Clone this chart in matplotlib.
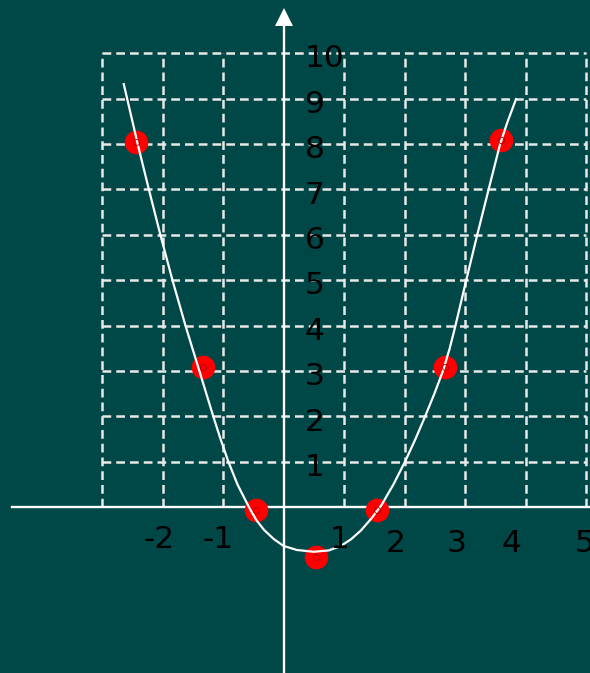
import matplotlib.pyplot as plt

# points marked on the curve
pt_x = [-2.44, -1.33, -0.45, 0.54, 1.54, 2.67, 3.59]
pt_y = [8.04, 3.10, -0.07, -1.09, -0.07, 3.10, 8.08]

# the curve itself, traced point by point
curve_x = [-2.64, -2.41, -2.225, -2.035, -1.835, -1.62, -1.39, -1.16, -1.04,
           -0.91, -0.76, -0.57, -0.45, -0.32, -0.16, 0.0, 0.22, 0.50, 0.75,
           0.95, 1.12, 1.28, 1.45, 1.62, 1.82, 2.01, 2.18, 2.34, 2.49, 2.635,
           2.745, 2.84, 3.02, 3.20, 3.39, 3.58, 3.70, 3.843]
curve_y = [9.32, 8.00, 7.00, 6.00, 5.00, 4.00, 3.00, 2.00, 1.50,
           1.00, 0.50, 0.00, -0.28, -0.50, -0.70, -0.85, -0.94, -0.98, -0.95,
           -0.85, -0.70, -0.51, -0.25, 0.05, 0.51, 1.01, 1.50, 2.00, 2.49, 3.00,
           3.49, 3.99, 5.00, 5.99, 7.00, 8.00, 8.48, 8.99]

x_ticks = [-2, -1, 1, 2, 3, 4, 5]
y_ticks = [1, 2, 3, 4, 5, 6, 7, 8, 9, 10]
grid_cols = [-3, -2, -1, 1, 2, 3, 4, 5]

# where the x labels sit (they are nudged off the grid lines a bit)
x_label_pos = [-2.06, -1.08, 0.93, 1.86, 2.86, 3.76, 4.98]
x_label_base = [-0.90, -0.90, -0.90, -0.99, -0.99, -0.99, -0.99]

bg = '#004747'
fig = plt.figure(figsize=(5.9, 6.73), dpi=100, facecolor=bg)
ax = fig.add_axes([0, 0, 1, 1])
ax.set_facecolor(bg)
ax.set_xlim(-4.686, 5.066)
ax.set_ylim(-3.65, 11.174)
ax.axis('off')

# dashed grid
for gx in grid_cols:
    ax.plot([gx, gx], [0, 10], color='#e8e8e8', lw=1.8, dashes=(3.5, 2.0), zorder=1)
for gy in y_ticks:
    ax.plot([-3, 5], [gy, gy], color='#e8e8e8', lw=1.8, dashes=(3.5, 2.0), zorder=1)

# axes lines and the arrow on top of y
ax.plot([-4.49, 5.066], [0, 0], color='white', lw=1.7, zorder=2)
ax.plot([0, 0], [-3.65, 10.66], color='white', lw=1.7, zorder=2)
ax.plot(0, 10.81, marker='^', markersize=12.5, color='white', mew=0, zorder=2)

# points and curve
ax.plot(pt_x, pt_y, 'o', color='#ff0000', markersize=17, mew=0, zorder=3)
ax.plot(curve_x, curve_y, color='white', lw=1.6, zorder=4,
        solid_joinstyle='round')
ax.plot(pt_x, pt_y, 'o', mfc='none', mec='#b00000', markersize=4.5, mew=0.6, zorder=5)

# tick labels
for v in y_ticks:
    ax.text(0.35, v - 0.31, str(v), fontsize=22.5, color='black',
            ha='left', va='baseline', zorder=6)
for v, px, py in zip(x_ticks, x_label_pos, x_label_base):
    ax.text(px, py, str(v), fontsize=22.5, color='black',
            ha='center', va='baseline', zorder=6)

plt.savefig('out.png', dpi=100, facecolor=bg)
